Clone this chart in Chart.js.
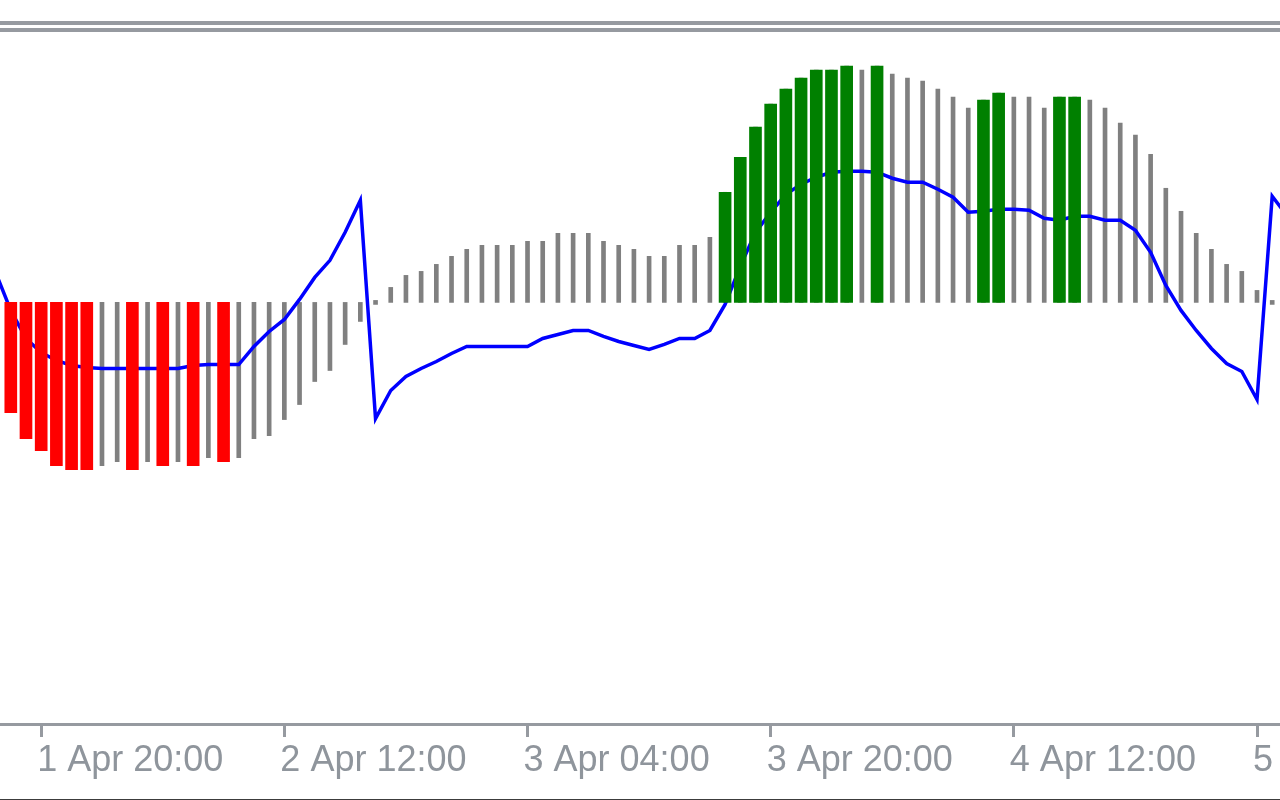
<!DOCTYPE html>
<html>
<head>
<meta charset="utf-8">
<script src="https://cdn.jsdelivr.net/npm/chart.js@4.4.1/dist/chart.umd.min.js"></script>
<style>
html,body{margin:0;padding:0;background:#fff;overflow:hidden;width:1280px;height:800px;position:relative}
#wrap{position:absolute;left:-12px;top:0;width:1307px;height:800px}
.sep{position:absolute;left:0;width:1280px;height:4px;background:#969aa0}
#bottom{position:absolute;left:0;top:799px;width:1280px;height:1px;background:#3c3c3c}
</style>
</head>
<body>
<div class="sep" style="top:21px"></div>
<div class="sep" style="top:28px"></div>
<div id="wrap"><canvas id="c" width="1307" height="800"></canvas></div>
<div id="bottom"></div>
<script>
// Hourly bars, first bar = 1 Apr 17:00 (partly off the left edge)
const firstDay = 1, firstHour = 17, barCount = 86;
const categories = [];
for (let k = 0; k < barCount; k++) {
  const h = firstHour + k;
  const d = firstDay + Math.floor(h / 24);
  const hh = String(h % 24).padStart(2, '0');
  categories.push(d + ' Apr ' + hh + ':00');
}

const tickLabels = ['1 Apr 20:00', '2 Apr 12:00', '3 Apr 04:00', '3 Apr 20:00', '4 Apr 12:00', '5 Apr 04:00'];

// Histogram (thin grey bars), one per bar
const histogram = [
  null,
  -1.10,-1.36,-1.48,-1.63,-1.67,-1.67,-1.63,-1.59,-1.67,-1.59,-1.63,-1.59,-1.63,-1.55,-1.59,-1.55,
  -1.36,-1.33,-1.17,-1.02,-0.79,-0.68,-0.42,-0.19,
  0,
  0.15,0.27,0.31,0.38,0.46,0.53,0.57,0.57,0.57,0.61,0.61,0.69,0.69,0.69,0.61,0.57,0.53,0.46,0.46,0.57,0.57,0.65,
  1.10,1.45,1.75,1.98,2.13,2.24,2.32,2.32,2.36,2.32,2.36,
  2.28,2.24,2.21,2.13,2.05,1.94,2.02,2.09,2.05,2.05,1.94,2.05,2.05,2.02,1.94,1.79,1.67,1.48,1.14,0.91,0.69,0.53,0.38,0.31,0.12,0,
  null
];

// Signal state per bar: -1 = sell (red), 1 = buy (green), 0 = none
const signal = [
  0,
  -1,-1,-1,-1,-1,-1,0,0,-1,0,-1,0,-1,0,-1,0,
  0,0,0,0,0,0,0,0,
  0,
  0,0,0,0,0,0,0,0,0,0,0,0,0,0,0,0,0,0,0,0,0,0,
  1,1,1,1,1,1,1,1,1,0,1,
  0,0,0,0,0,0,1,1,0,0,0,1,1,0,0,0,0,0,0,0,0,0,0,0,0,0,
  0
];

// Blue signal line
const signalLine = [
  0.30,
  -0.08,-0.36,-0.50,-0.58,-0.63,-0.65,-0.66,-0.66,-0.66,-0.66,-0.66,-0.66,
  -0.63,-0.62,-0.62,-0.62,
  -0.44,-0.29,-0.17,0.03,0.25,0.42,0.70,1.02,
  -1.16,-0.88,-0.74,-0.66,-0.59,-0.51,-0.44,-0.44,-0.44,-0.44,-0.44,
  -0.36,-0.32,-0.28,-0.28,-0.34,-0.39,-0.43,-0.47,-0.42,-0.36,-0.36,-0.28,
  -0.02,0.36,0.70,0.90,1.08,1.18,1.25,1.30,1.31,1.31,1.30,
  1.24,1.20,1.20,1.13,1.05,0.90,0.91,0.93,0.93,0.92,0.84,0.82,0.86,0.86,
  0.82,0.82,0.72,0.50,0.17,-0.08,-0.28,-0.46,-0.61,-0.69,-0.97,1.06,0.86
];

const coloured = histogram.map((v, i) => signal[i] !== 0 ? v : null);
const colouredFill = signal.map(s => s > 0 ? '#008000' : '#ff0000');
const tickSet = new Set(tickLabels);
const AXIS_GREY = '#969aa0';

new Chart(document.getElementById('c'), {
  type: 'bar',
  data: {
    labels: categories,
    datasets: [
      {
        type: 'bar', data: coloured, backgroundColor: colouredFill,
        barThickness: 12, grouped: false, order: 0
      },
      {
        type: 'line', data: signalLine, borderColor: '#0000ff', borderWidth: 3.5,
        pointRadius: 0, tension: 0, fill: false, order: 1
      },
      {
        type: 'bar', data: histogram, backgroundColor: '#808080',
        barThickness: 4, grouped: false, minBarLength: 4, order: 2
      }
    ]
  },
  options: {
    responsive: false,
    animation: false,
    devicePixelRatio: 1,
    layout: { padding: 0 },
    plugins: { legend: { display: false }, tooltip: { enabled: false } },
    scales: {
      x: {
        type: 'category',
        offset: true,
        grid: {
          offset: false, drawOnChartArea: false, drawTicks: true,
          tickLength: 13, tickWidth: 3,
          tickColor: ctx => tickSet.has(categories[ctx.index]) ? AXIS_GREY : 'rgba(0,0,0,0)'
        },
        border: { display: true, color: AXIS_GREY, width: 3 },
        ticks: {
          autoSkip: false, maxRotation: 0, minRotation: 0,
          align: 'start', labelOffset: -4, padding: 2,
          color: '#8f959c',
          font: { family: 'Liberation Sans', size: 36 },
          callback: (v, i) => tickSet.has(categories[i]) ? categories[i] : ''
        },
        afterFit: s => { s.height = 76; }
      },
      y: {
        display: false,
        min: -4.21, max: 3.02
      }
    }
  }
});
</script>
</body>
</html>
